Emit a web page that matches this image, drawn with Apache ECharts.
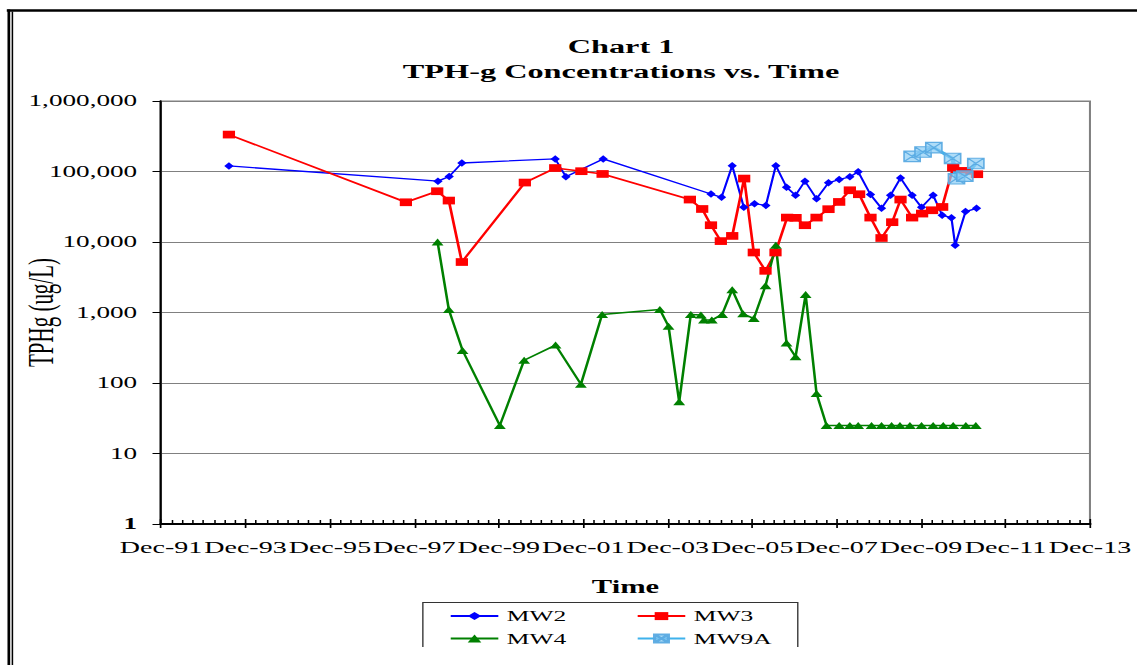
<!DOCTYPE html>
<html>
<head>
<meta charset="utf-8">
<script src="https://cdn.jsdelivr.net/npm/echarts@6/dist/echarts.min.js"></script>
<style>
html,body{margin:0;padding:0;background:#fff;}
#wrap{width:1137px;height:665px;overflow:hidden;position:relative;background:#fff;}
#c{width:669px;height:665px;transform:scaleX(1.6996);transform-origin:0 0;}
</style>
</head>
<body>
<div id="wrap"><div id="c"></div></div>
<script>
// ---- data (sampling dates, TPHg in ug/L) ----
const mw2Dates = ['1993-07-10','1998-06-22','1998-09-28','1999-01-16','2001-04-02','2001-07-03','2002-05-21','2004-12-10','2005-03-10','2005-06-11','2005-09-20','2005-12-21','2006-03-28','2006-06-23','2006-09-24','2006-12-11','2007-03-01','2007-06-10','2007-09-22','2007-12-23','2008-03-24','2008-06-05','2008-09-20','2008-12-24','2009-03-11','2009-06-06','2009-09-15','2009-12-05','2010-03-14','2010-06-01','2010-08-20','2010-09-22','2010-12-20','2011-03-24'];
const mw2Values = [120000,73000,85000,132000,151000,84000,151000,48000,43000,121000,31000,35000,33000,121000,60000,46000,73000,41000,69000,77000,84000,99000,47000,30000,46000,81000,46000,31000,46000,24000,22000,9000,27000,30000];

const mw3Dates = ['1993-07-10','1997-09-19','1998-06-16','1998-09-25','1999-01-16','2000-07-13','2001-04-02','2001-11-15','2002-05-16','2004-06-10','2004-09-25','2004-12-10','2005-03-04','2005-06-11','2005-09-23','2005-12-15','2006-03-25','2006-06-20','2006-09-29','2006-12-11','2007-03-01','2007-06-10','2007-09-22','2007-12-23','2008-03-24','2008-06-13','2008-09-20','2008-12-24','2009-03-25','2009-06-06','2009-09-15','2009-12-10','2010-03-05','2010-06-01','2010-09-05','2010-12-14','2011-03-28'];
const mw3Values = [334000,36600,52500,38700,5200,69700,112000,101000,92300,40000,29400,17300,10300,12200,79400,7100,3900,7100,22200,22000,17300,22200,29200,37000,54200,47600,22200,11400,19100,40000,22200,25300,28200,31400,114000,102000,91500];

const mw4Dates = ['1998-06-19','1998-09-25','1999-01-22','1999-12-10','2000-07-07','2001-04-05','2001-11-11','2002-05-12','2003-09-24','2003-12-08','2004-03-09','2004-06-18','2004-09-14','2004-10-10','2004-12-17','2005-03-15','2005-06-11','2005-09-14','2005-12-15','2006-03-25','2006-06-23','2006-09-24','2006-12-11','2007-03-07','2007-06-10','2007-09-05','2007-12-23','2008-03-24','2008-06-05','2008-09-29','2008-12-24','2009-03-20','2009-06-01','2009-08-26','2009-12-05','2010-03-14','2010-06-10','2010-09-05','2010-12-23','2011-03-18'];
const mw4Values = [10000,1100,290,25,210,345,96,940,1100,640,54,940,920,780,780,940,2100,960,820,2400,9000,370,235,1800,71,25,25,25,25,25,25,25,25,25,25,25,25,25,25,25];

const mw9aDates = ['2009-09-15','2009-12-18','2010-03-20','2010-08-30','2010-10-03','2010-12-14','2011-03-18'];
const mw9aValues = [164000,189000,218000,153000,79000,86000,130000];

const seriesNames = ['MW2','MW3','MW4','MW9A'];
const yTickValues = [1,10,100,1000,10000,100000,1000000];

// ---- helpers ----
// months elapsed since 1 Dec 1991 (the axis origin, "Dec-91")
function monthsSince(s){
  const p = s.split('-').map(Number);
  return (p[0]-1991)*12 + (p[1]-12) + (p[2]-1)/30;
}
function pairs(dates, vals){ return dates.map((d,i)=>[monthsSince(d), vals[i]]); }
function fmtComma(v){ return String(Math.round(v)).replace(/\B(?=(\d{3})+(?!\d))/g, ','); }

const SERIF = 'Liberation Serif';
const X_MIN = 0, X_MAX = 264, X_STEP = 24;   // months: Dec-91 .. Dec-13, every 2 years
const chart = echarts.init(document.getElementById('c'), null, {renderer:'svg'});

const option = {
  animation:false,
  backgroundColor:'#fff',
  title:[
    {text:'Chart 1', left:365.4, top:37, textAlign:'center', padding:0,
     textStyle:{fontFamily:SERIF, fontWeight:'bold', fontSize:19, color:'#000'}},
    {text:'TPH-g Concentrations vs. Time', left:365.4, top:62, textAlign:'center', padding:0,
     textStyle:{fontFamily:SERIF, fontWeight:'bold', fontSize:19, color:'#000'}}
  ],
  legend:[
    {data:[seriesNames[0],seriesNames[1]], left:264.2, top:608.6, padding:0, itemWidth:28, itemHeight:10, itemGap:41,
     textStyle:{fontFamily:SERIF, fontSize:15, color:'#000'}},
    {data:[seriesNames[2],seriesNames[3]], left:264.2, top:631, padding:0, itemWidth:28, itemHeight:10, itemGap:41,
     textStyle:{fontFamily:SERIF, fontSize:15, color:'#000'}}
  ],
  grid:{left:94.73, right:27.7, top:101, bottom:141, show:true, borderColor:'#808080', borderWidth:1.2,
        backgroundColor:'#fff', containLabel:false, outerBoundsMode:'none'},
  xAxis:[{
    type:'value', min:X_MIN, max:X_MAX, interval:X_STEP,
    axisLine:{show:true, lineStyle:{color:'#000', width:2}},
    axisTick:{show:true, inside:true, length:5, lineStyle:{color:'#000', width:1}},
    minorTick:{show:true, splitNumber:8, length:4, lineStyle:{color:'#000', width:0.9}},
    splitLine:{show:false},
    axisLabel:{fontFamily:SERIF, fontSize:16.5, color:'#000', margin:15,
      formatter:function(v){ return 'Dec-' + String(1991 + v/12).slice(2); }},
    name:'Time', nameLocation:'middle', nameGap:54,
    nameTextStyle:{fontFamily:SERIF, fontWeight:'bold', fontSize:18, color:'#000'}
  },{
    type:'value', min:X_MIN, max:X_MAX, interval:X_STEP, position:'bottom',
    axisLine:{show:false}, axisLabel:{show:false}, splitLine:{show:false},
    axisTick:{show:true, inside:false, length:4, lineStyle:{color:'#000', width:1}}
  }],
  yAxis:{
    type:'log', logBase:10, min:yTickValues[0], max:yTickValues[yTickValues.length-1], splitNumber:6,
    axisLine:{show:true, lineStyle:{color:'#000', width:1.3}},
    axisTick:{show:true, length:5, lineStyle:{color:'#000', width:1}},
    splitLine:{show:true, lineStyle:{color:'#808080', width:1.2}},
    axisLabel:{fontFamily:SERIF, fontSize:16, color:'#000', margin:14,
      formatter:function(v){ return v===1 ? '{b|1}' : fmtComma(v); },
      rich:{b:{fontFamily:SERIF, fontSize:16, fontWeight:'bold', color:'#000'}}},
    name:'TPHg (ug/L)', nameLocation:'middle', nameGap:60, nameRotate:90, nameMoveOverlap:false,
    nameTextStyle:{fontFamily:SERIF, fontSize:21, color:'#000'}
  },
  graphic:[
    {type:'line', shape:{x1:4, y1:10.5, x2:669, y2:10.5}, style:{stroke:'#000', lineWidth:2.5}, silent:true},
    {type:'line', shape:{x1:5.2, y1:9.5, x2:5.2, y2:665}, style:{stroke:'#000', lineWidth:1.6}, silent:true},
    {type:'line', shape:{x1:7.3, y1:11.5, x2:7.3, y2:665}, style:{stroke:'#000', lineWidth:0.9}, silent:true},
    {type:'polyline', shape:{points:[[248.8,647],[248.8,602.5],[469.4,602.5],[469.4,647]]}, style:{stroke:'#333', lineWidth:0.8, fill:null}, silent:true}
  ],
  series:[
    {name:seriesNames[0], type:'line', data:pairs(mw2Dates,mw2Values), color:'#0000FF',
     symbol:'diamond', symbolSize:[5.5,7.5], lineStyle:{width:1.3}, itemStyle:{color:'#0000FF'}},
    {name:seriesNames[1], type:'line', data:pairs(mw3Dates,mw3Values), color:'#FF0000',
     symbol:'rect', symbolSize:[7.2,7.7], lineStyle:{width:1.6}, itemStyle:{color:'#FF0000'}},
    {name:seriesNames[2], type:'line', data:pairs(mw4Dates,mw4Values), color:'#008000',
     symbol:'triangle', symbolSize:[7,7], lineStyle:{width:1.5}, itemStyle:{color:'#008000'}},
    {name:seriesNames[3], type:'line', data:pairs(mw9aDates,mw9aValues), color:'#3FB2EC',
     symbol:'path://M0,0L10,0L10,10L0,10Z M0,0L10,10 M10,0L0,10', symbolSize:[9.5,10.5],
     lineStyle:{width:2.6, color:'#3FB2EC'},
     itemStyle:{color:'rgba(140,205,245,0.7)', borderColor:'rgba(90,170,225,0.95)', borderWidth:1}}
  ]
};
chart.setOption(option);
</script>
</body>
</html>
